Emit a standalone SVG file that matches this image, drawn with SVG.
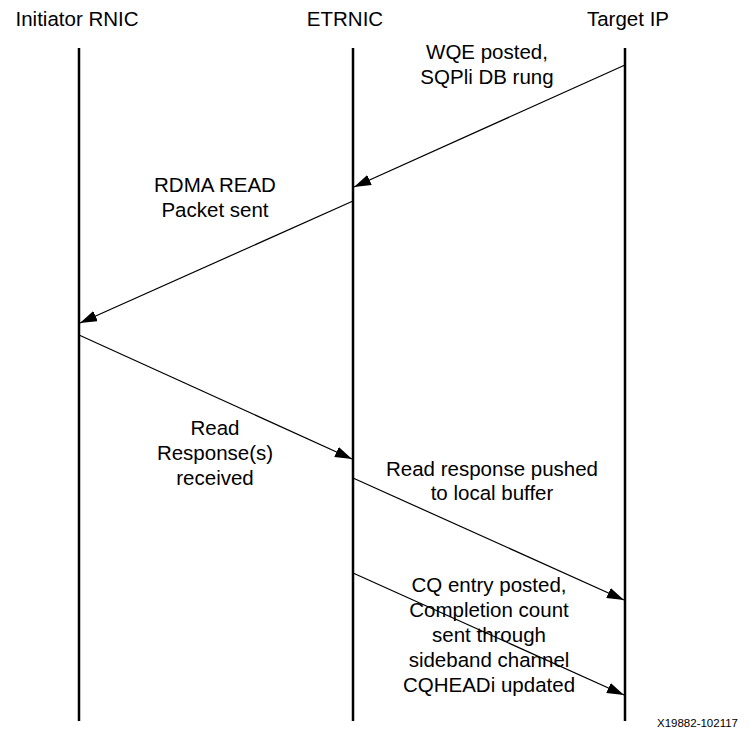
<svg xmlns="http://www.w3.org/2000/svg" width="750" height="736" viewBox="0 0 750 736">
<style>
text{font-family:"Liberation Sans",Arial,sans-serif;font-size:20.5px;fill:#000}
.lbl{text-anchor:middle}
.life{stroke:#000;stroke-width:2.5;fill:none}
.msg{stroke:#000;stroke-width:1.2;fill:none;marker-end:url(#ah)}
.id{font-size:11.5px;text-anchor:end}
</style>
<defs>
<marker id="ah" markerUnits="userSpaceOnUse" markerWidth="17" markerHeight="11" refX="17" refY="5.5" orient="auto">
<path d="M0,0 L17,5.5 L0,11 z" fill="#000"/>
</marker>
</defs>
<rect width="750" height="736" fill="#fff"/>
<g id="initiator">
<text class="lbl" x="77" y="26">Initiator RNIC</text>
<line class="life" x1="79" y1="48" x2="79" y2="721"/>
</g>
<g id="etrnic">
<text class="lbl" x="345" y="26">ETRNIC</text>
<line class="life" x1="353" y1="48" x2="353" y2="721"/>
</g>
<g id="target">
<text class="lbl" x="628" y="26">Target IP</text>
<line class="life" x1="625" y1="48" x2="625" y2="721"/>
</g>
<g id="connectors">
<line class="msg" x1="625" y1="65" x2="354" y2="187"/>
<line class="msg" x1="353" y1="201" x2="80" y2="323"/>
<line class="msg" x1="79" y1="335" x2="352" y2="459"/>
<line class="msg" x1="353" y1="478" x2="624" y2="600"/>
<line class="msg" x1="353" y1="573" x2="624" y2="695"/>
</g>
<g id="labels">
<text class="lbl" x="487" y="59">WQE posted,</text>
<text class="lbl" x="487" y="84">SQPli DB rung</text>
<text class="lbl" x="215" y="192">RDMA READ</text>
<text class="lbl" x="215" y="217">Packet sent</text>
<text class="lbl" x="215" y="435">Read</text>
<text class="lbl" x="215" y="460">Response(s)</text>
<text class="lbl" x="215" y="485">received</text>
<text class="lbl" x="492" y="476">Read response pushed</text>
<text class="lbl" x="492" y="500">to local buffer</text>
<text class="lbl" x="489" y="592">CQ entry posted,</text>
<text class="lbl" x="489" y="617">Completion count</text>
<text class="lbl" x="489" y="642">sent through</text>
<text class="lbl" x="489" y="667">sideband channel</text>
<text class="lbl" x="489" y="692">CQHEADi updated</text>
</g>
<text class="id" x="738" y="727">X19882-102117</text>
</svg>
